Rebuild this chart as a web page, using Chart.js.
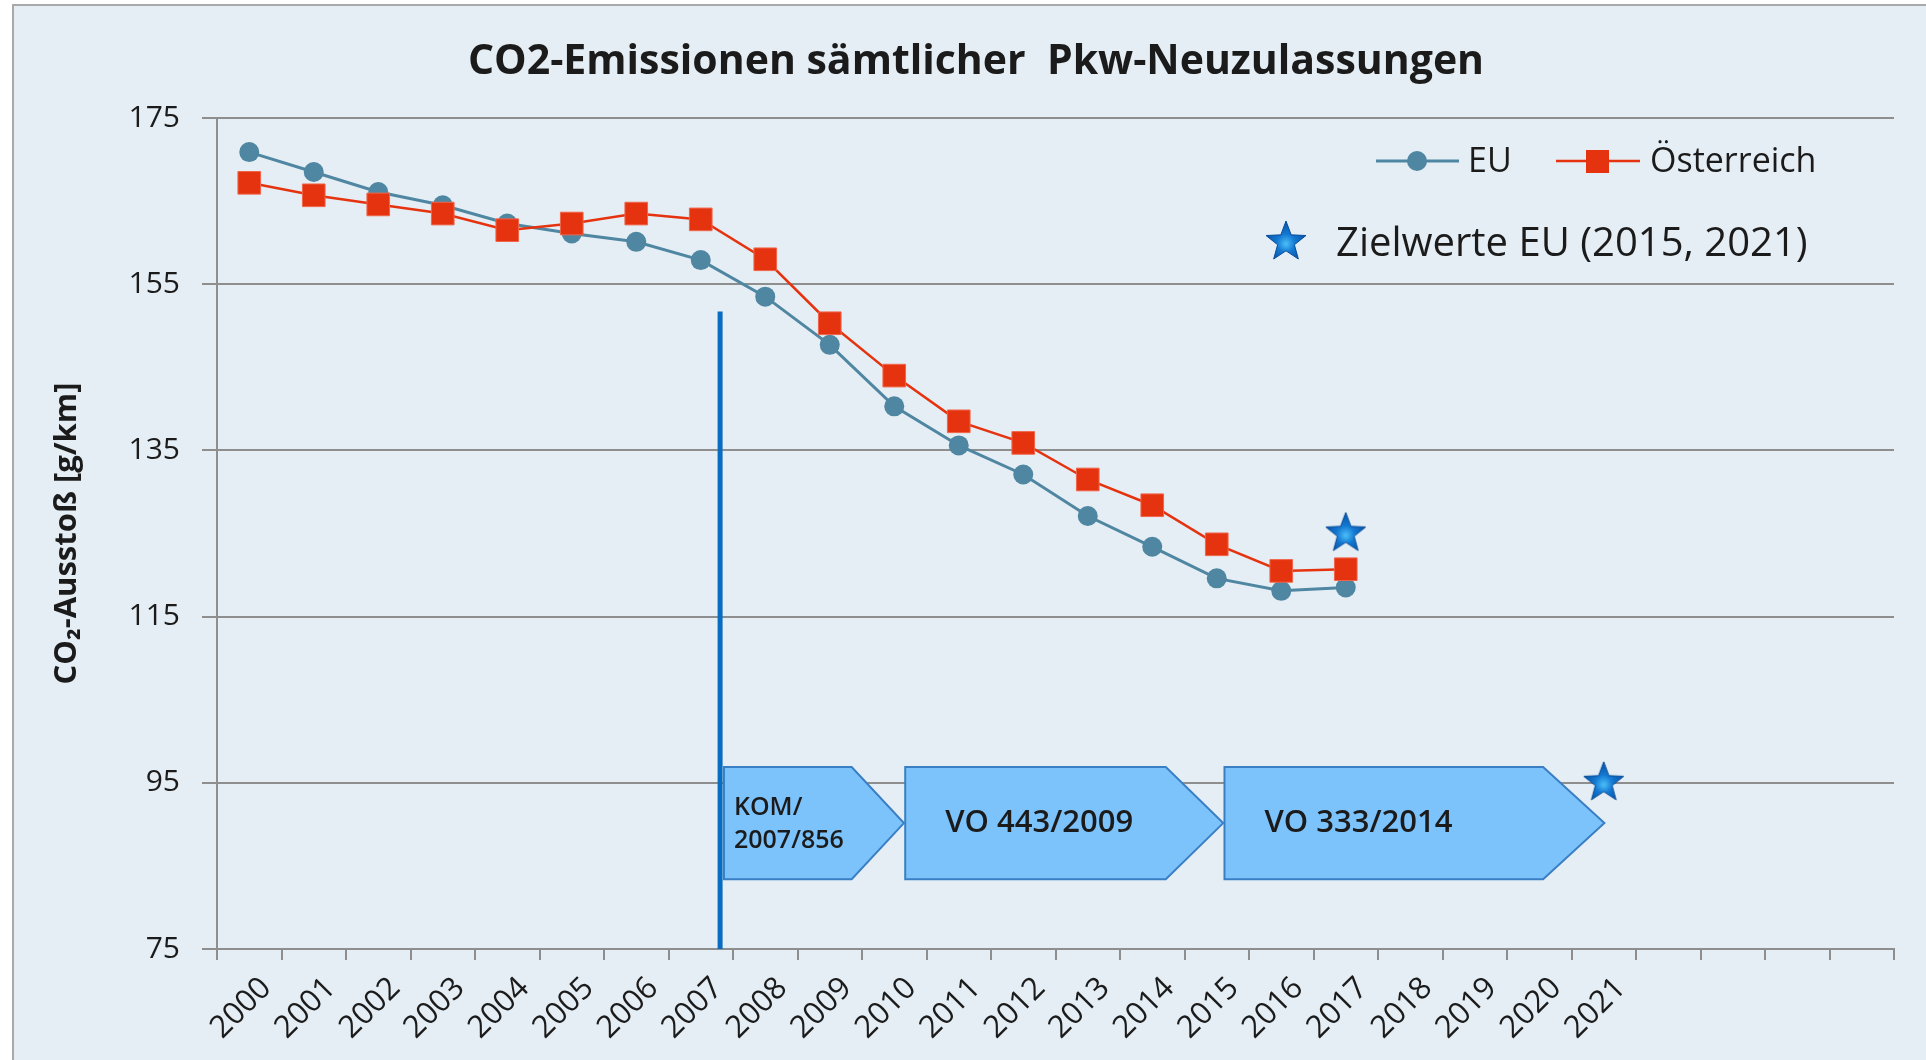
<!DOCTYPE html>
<html>
<head>
<meta charset="utf-8">
<script src="https://cdn.jsdelivr.net/npm/chart.js@4/dist/chart.umd.min.js"></script>
<style>
  html,body{margin:0;padding:0;background:#fff;overflow:hidden}
  #wrap{width:1926px;height:1060px}
</style>
</head>
<body>
<div id="wrap"><canvas id="c" width="1926" height="1060"></canvas></div>
<script>
// categories (last four slots are empty on the axis)
const YEARS = ['2000','2001','2002','2003','2004','2005','2006','2007','2008','2009','2010',
               '2011','2012','2013','2014','2015','2016','2017','2018','2019','2020','2021','','','',''];
const EU   = [170.9,168.5,166.1,164.5,162.3,161.1,160.1,157.9,153.5,147.7,140.3,135.6,132.1,127.1,123.4,119.6,118.1,118.5];
const AUT  = [167.2,165.7,164.6,163.5,161.5,162.3,163.5,162.8,158.0,150.3,144.0,138.5,135.9,131.5,128.4,123.7,120.5,120.7];
// EU targets, drawn at 2017 and 2021
const TARGET = [null,null,null,null,null,null,null,null,null,null,null,null,null,null,null,null,null,125,null,null,null,95];
const Y_TICKS = {min:75, max:175, step:20};

// regulation timeline (x in category index units, y in g/km)
const MARKER_X = 7.3, MARKER_TOP = 151.7;
const POLICY_NAMES = [['KOM/','2007/856'], ['VO 443/2009'], ['VO 333/2014']];
const POLICY_START = [7.36, 10.17, 15.12];
const POLICY_BODY  = [9.34, 14.21, 20.06];
const POLICY_TIP   = [10.15, 15.10, 21.01];
const POLICY_TOP = 96.9, POLICY_BOTTOM = 83.4;

const FONT = '"Open Sans", "DejaVu Sans", sans-serif';
const C_EU = '#4f86a1', C_AT = '#e5330f', C_GRID = '#8e8e8e', C_TXT = '#1b1b1b';

function makeStar(r){
  const c = document.createElement('canvas'); c.width = c.height = r*2+4;
  const g = c.getContext('2d'), cx = r+2, cy = r+2;
  g.beginPath();
  for(let i=0;i<10;i++){ const a=-Math.PI/2+i*Math.PI/5, rr=i%2?r*0.42:r; g.lineTo(cx+rr*Math.cos(a), cy+rr*Math.sin(a)); }
  g.closePath();
  const grd = g.createRadialGradient(cx,cy+2,1,cx,cy,r);
  grd.addColorStop(0,'#45b8f6'); grd.addColorStop(0.4,'#1479d2'); grd.addColorStop(1,'#0651a6');
  g.fillStyle = grd; g.fill();
  g.strokeStyle = '#074c98'; g.lineWidth = 1; g.stroke();
  return c;
}
const STAR = makeStar(21);

const overlay = {
  id:'overlay',
  beforeDraw(chart){
    const ctx = chart.ctx;
    ctx.save();
    ctx.fillStyle = '#fff'; ctx.fillRect(0,0,chart.width,chart.height);
    ctx.fillStyle = '#e5eef4'; ctx.fillRect(13,5,chart.width,chart.height);
    ctx.strokeStyle = '#a9a9a9'; ctx.lineWidth = 2;
    ctx.beginPath(); ctx.moveTo(13,chart.height); ctx.lineTo(13,5); ctx.lineTo(chart.width,5); ctx.stroke();
    ctx.restore();
  },
  beforeDatasetsDraw(chart){
    const {ctx, scales:{x,y}} = chart;
    ctx.save();
    // timeline arrows
    const yt = y.getPixelForValue(POLICY_TOP), yb = y.getPixelForValue(POLICY_BOTTOM), ym = (yt+yb)/2;
    POLICY_NAMES.forEach((lines,i)=>{
      const x0 = x.getPixelForValue(POLICY_START[i]), x1 = x.getPixelForValue(POLICY_BODY[i]), x2 = x.getPixelForValue(POLICY_TIP[i]);
      ctx.beginPath();
      ctx.moveTo(x0,yt); ctx.lineTo(x1,yt); ctx.lineTo(x2,ym); ctx.lineTo(x1,yb); ctx.lineTo(x0,yb); ctx.closePath();
      ctx.fillStyle = '#7dc3fb'; ctx.fill();
      ctx.strokeStyle = '#3a7fc4'; ctx.lineWidth = 2; ctx.stroke();
      ctx.fillStyle = C_TXT; ctx.textBaseline = 'middle'; ctx.textAlign = 'left';
      if(lines.length > 1){
        ctx.font = '600 25px ' + FONT;
        ctx.fillText(lines[0], x0+10, ym-15);
        ctx.fillText(lines[1], x0+10, ym+18);
      } else {
        ctx.font = '600 31px ' + FONT;
        ctx.fillText(lines[0], x0+40, ym);
      }
    });
    // vertical marker 2007
    const mx = x.getPixelForValue(MARKER_X);
    ctx.strokeStyle = '#0a6cc0'; ctx.lineWidth = 5;
    ctx.beginPath(); ctx.moveTo(mx, y.getPixelForValue(MARKER_TOP)); ctx.lineTo(mx, y.getPixelForValue(Y_TICKS.min)); ctx.stroke();
    ctx.restore();
  },
  afterDraw(chart){
    const ctx = chart.ctx;
    ctx.save();
    ctx.fillStyle = C_TXT; ctx.textBaseline = 'middle';
    // title
    ctx.textAlign = 'center'; ctx.font = 'bold 41px ' + FONT;
    ctx.fillText('CO2-Emissionen sämtlicher  Pkw-Neuzulassungen', 976, 62);
    // legend row 1
    ctx.textAlign = 'left'; ctx.font = '34px ' + FONT;
    ctx.strokeStyle = C_EU; ctx.lineWidth = 3;
    ctx.beginPath(); ctx.moveTo(1376,161); ctx.lineTo(1459,161); ctx.stroke();
    ctx.fillStyle = C_EU; ctx.beginPath(); ctx.arc(1417,161,10,0,Math.PI*2); ctx.fill();
    ctx.fillStyle = C_TXT; ctx.fillText('EU', 1468, 162);
    ctx.strokeStyle = C_AT; ctx.lineWidth = 2.5;
    ctx.beginPath(); ctx.moveTo(1556,161); ctx.lineTo(1640,161); ctx.stroke();
    ctx.fillStyle = C_AT; ctx.fillRect(1586,150,23,23);
    ctx.fillStyle = C_TXT; ctx.fillText('Österreich', 1650, 162);
    // legend row 2
    ctx.drawImage(STAR, 1286-STAR.width/2, 242-STAR.height/2);
    ctx.font = '40px ' + FONT;
    ctx.fillText('Zielwerte EU (2015, 2021)', 1336, 245);
    ctx.restore();
  }
};

new Chart(document.getElementById('c'), {
  type:'line',
  data:{
    labels: YEARS,
    datasets:[
      {label:'EU', data:EU, borderColor:C_EU, borderWidth:3, pointStyle:'circle', pointRadius:10,
       pointBackgroundColor:C_EU, pointBorderWidth:0, order:2},
      {label:'Österreich', data:AUT, borderColor:C_AT, borderWidth:2.5, pointStyle:'rect', pointRadius:16,
       pointBackgroundColor:C_AT, pointBorderColor:'#f0654a', pointBorderWidth:1, order:1},
      {label:'Zielwerte EU (2015, 2021)', data:TARGET, showLine:false, pointStyle:STAR, order:0}
    ]
  },
  options:{
    responsive:false, animation:false, events:[],
    layout:{padding:{top:118, right:32, left:0, bottom:0}},
    plugins:{legend:{display:false}, title:{display:false}, tooltip:{enabled:false}},
    scales:{
      x:{
        offset:true,
        grid:{offset:true, drawOnChartArea:false, color:C_GRID, lineWidth:2, tickLength:11},
        border:{color:C_GRID, width:2},
        ticks:{autoSkip:false, maxRotation:45, minRotation:45, padding:10, labelOffset:17, color:C_TXT, font:{family:FONT, size:31}},
        afterFit(s){ s.height = 111; }
      },
      y:{
        min:Y_TICKS.min, max:Y_TICKS.max,
        grid:{color:C_GRID, lineWidth:2, tickLength:15},
        border:{color:C_GRID, width:2},
        ticks:{stepSize:Y_TICKS.step, padding:22, color:C_TXT, font:{family:FONT, size:30}},
        title:{display:true, text:'CO₂-Ausstoß [g/km]', color:C_TXT, font:{family:FONT, size:31, weight:'bold'}, padding:{top:49, bottom:0}},
        afterFit(s){ s.width = 217; }
      }
    }
  },
  plugins:[overlay]
});
</script>
</body>
</html>
